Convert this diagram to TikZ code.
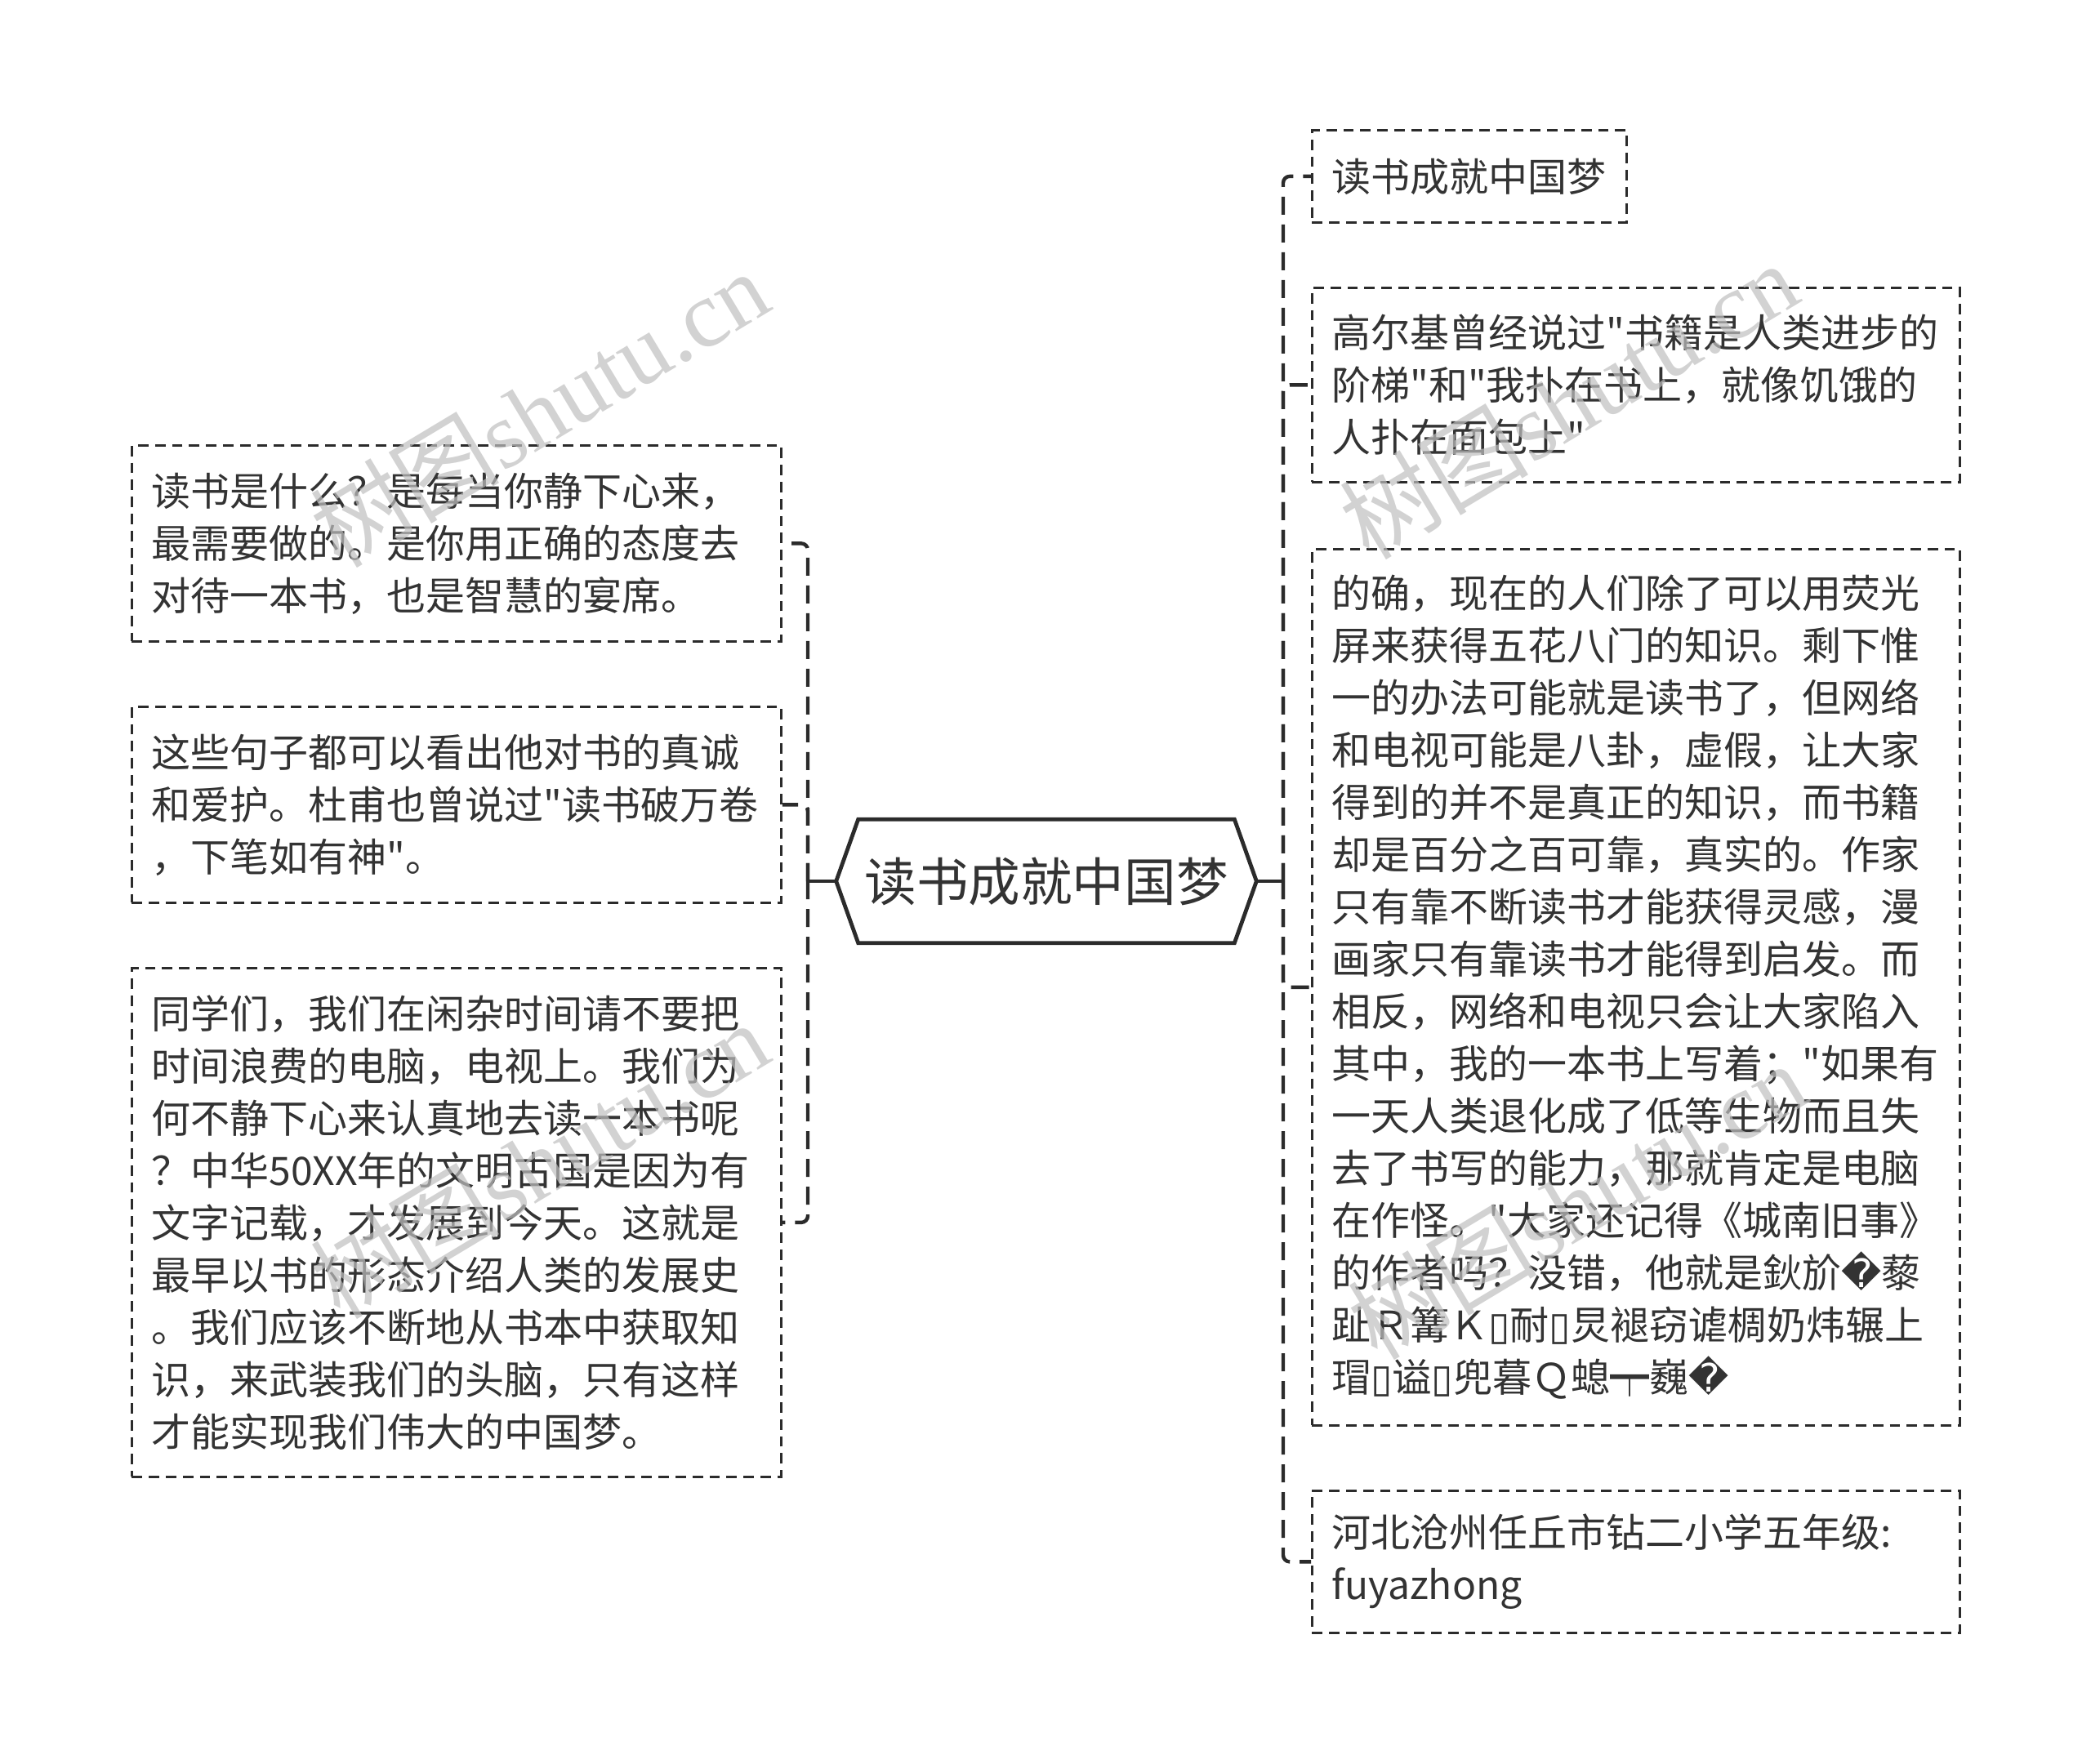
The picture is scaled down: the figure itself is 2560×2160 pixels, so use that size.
\documentclass[tikz,border=0pt]{standalone}
\usepackage{fontspec}
\setmainfont{Noto Sans CJK SC}[Ligatures=TeXOff]
\newfontfamily\cjkfont{Noto Sans CJK SC}[Ligatures=TeXOff]
\newfontfamily\dvfont{DejaVu Sans}
\newfontfamily\wmserif{Liberation Serif}
\usetikzlibrary{calc}
\definecolor{textc}{HTML}{333333}
\definecolor{linec}{HTML}{2b2b2b}
\newcommand{\rep}{{\dvfont\symbol{"FFFD}}}
\newcommand{\nob}{{\dvfont\symbol{"25AF}}}
\tikzset{
  topic/.style={draw=none, text=textc, font=\fontsize{15.9pt}{18pt}\selectfont, minimum width=128.25pt, minimum height=37.5pt, inner sep=0pt},
  hexline/.style={draw=linec, line width=1.2pt, fill=white, line join=miter},
  leaf/.style={draw=linec, line width=0.7pt, dash pattern=on 3.2pt off 2pt, fill=white, text=textc, font=\fontsize{12pt}{16pt}\selectfont, align=left, anchor=north west, inner xsep=6pt, inner ysep=0pt},
  link/.style={draw=linec, line width=1.1pt, dash pattern=on 5.5pt off 3pt, rounded corners=2pt},
  stub/.style={draw=linec, line width=1.1pt},
  wm/.style={text=gray!50, opacity=0.7, rotate=31, font=\fontsize{29pt}{32pt}\selectfont, inner sep=0pt}
}
\begin{document}
\begin{tikzpicture}[x=0.25pt, y=-0.25pt]
\useasboundingbox (0,0) rectangle (2560,2160);
\fill[white] (0,0) rectangle (2560,2160);

% central topic
\node[topic] (c) at (1281,1079) {};
\draw[hexline] (c.west) -- ([xshift=6.75pt]c.north west) -- ([xshift=-6.75pt]c.north east) -- (c.east) -- ([xshift=-6.75pt]c.south east) -- ([xshift=6.75pt]c.south west) -- cycle;
\node[topic] (ct) at (c.center) {读书成就中国梦};

\coordinate (jl) at (989,1079);
\coordinate (jr) at (1571,1079);

% left leaves
\node[leaf, text width=186.75pt, minimum height=60pt] (l1) at (160,544) {读书是什么？是每当你静下心来，\\最需要做的。是你用正确的态度去\\对待一本书，也是智慧的宴席。};
\node[leaf, text width=186.75pt, minimum height=60pt] (l2) at (160,864) {这些句子都可以看出他对书的真诚\\和爱护。杜甫也曾说过"读书破万卷\\，下笔如有神"。};
\node[leaf, text width=186.75pt, minimum height=155.75pt] (l3) at (160,1184) {同学们，我们在闲杂时间请不要把\\时间浪费的电脑，电视上。我们为\\何不静下心来认真地去读一本书呢\\？中华50XX年的文明古国是因为有\\文字记载，才发展到今天。这就是\\最早以书的形态介绍人类的发展史\\。我们应该不断地从书本中获取知\\识，来武装我们的头脑，只有这样\\才能实现我们伟大的中国梦。};

% right leaves
\node[leaf, text width=84.25pt, minimum height=28.25pt] (r1) at (1605,158) {读书成就中国梦};
\node[leaf, text width=186.25pt, minimum height=59.5pt] (r2) at (1605,351) {高尔基曾经说过"书籍是人类进步的\\阶梯"和"我扑在书上，就像饥饿的\\人扑在面包上"};
\node[leaf, text width=186.25pt, minimum height=268.25pt] (r3) at (1605,671) {的确，现在的人们除了可以用荧光\\屏来获得五花八门的知识。剩下惟\\一的办法可能就是读书了，但网络\\和电视可能是八卦，虚假，让大家\\得到的并不是真正的知识，而书籍\\却是百分之百可靠，真实的。作家\\只有靠不断读书才能获得灵感，漫\\画家只有靠读书才能得到启发。而\\相反，网络和电视只会让大家陷入\\其中，我的一本书上写着；"如果有\\一天人类退化成了低等生物而且失\\去了书写的能力，那就肯定是电脑\\在作怪。"大家还记得《城南旧事》\\的作者吗？没错，他就是鈥斺\rep 藜\\趾Ｒ篝Ｋ\nob 耐\nob 炅褪窃谑椆奶炜辗上\\瑁\nob 谥\nob 兜暮Ｑ螅┯巍\rep};
\node[leaf, text width=186.25pt, minimum height=43.5pt] (r4) at (1605,1824) {河北沧州任丘市钻二小学五年级:\\fuyazhong};

% connectors
\draw[stub] (c.west) -- (jl);
\draw[stub] (c.east) -- (jr);
\draw[link] (jl) |- (l1.east);
\draw[link] (jl) |- (l2.east);
\draw[link] (jl) |- (l3.east);
\draw[link] (jr) |- (r1.west);
\draw[link] (jr) |- (r2.west);
\draw[link] (jr) |- (r3.west);
\draw[link] (jr) |- (r4.west);

% watermarks
\node[wm] (w1) at (660,500) {树图{\wmserif shutu.cn}};
\node[wm] (w2) at (1920,490) {树图{\wmserif shutu.cn}};
\node[wm] (w3) at (660,1420) {树图{\wmserif shutu.cn}};
\node[wm] (w4) at (1930,1470) {树图{\wmserif shutu.cn}};
\end{tikzpicture}
\end{document}
